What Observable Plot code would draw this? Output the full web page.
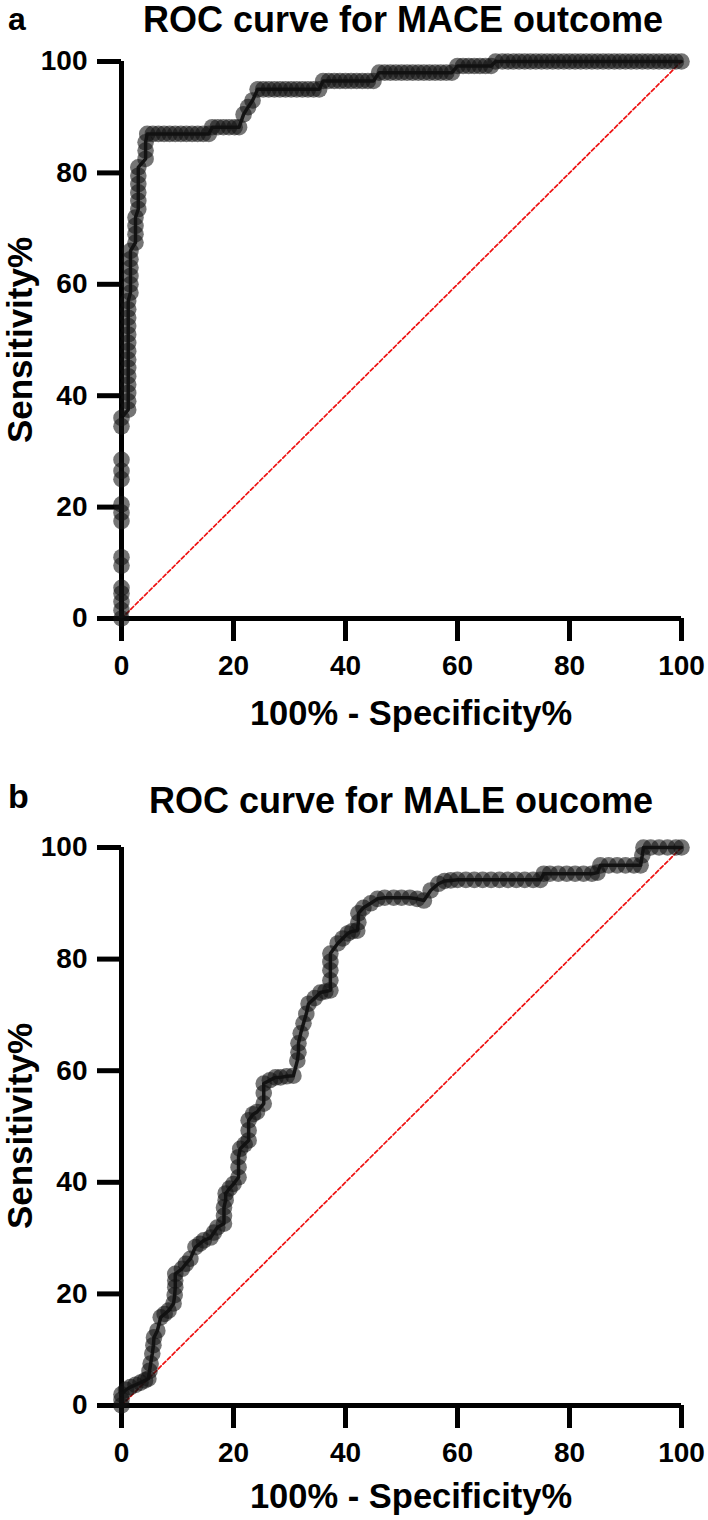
<!DOCTYPE html>
<html><head><meta charset="utf-8">
<script src="https://cdn.jsdelivr.net/npm/d3@7"></script>
<script src="https://cdn.jsdelivr.net/npm/@observablehq/plot@0.6"></script>
<style>
body{margin:0;background:#fff;}
#page{position:relative;width:708px;height:1520px;font-family:"Liberation Sans",Arial,Helvetica,sans-serif;font-weight:bold;color:#000;overflow:hidden;background:#fff}
.t{position:absolute;white-space:nowrap;line-height:1;font-weight:bold}
.plot{position:absolute;left:0}
</style></head><body><div id="page"></div>
<script>
const tickValues = [0, 20, 40, 60, 80, 100];
const chanceLine = [0, 100];
const titleA = "ROC curve for MACE outcome";
const titleB = "ROC curve for MALE oucome";
const xTitle = "100% - Specificity%";
const yTitle = "Sensitivity%";

// [100% - Specificity%, Sensitivity%]
const pointsA = [
 [0,0],[0,1.5],[0,3],[0,4.5],[0,5.5],
 [0,9.5],[0,11],
 [0,17.5],[0,19],[0,20.5],
 [0,25],[0,26.5],[0,28.5],
 [0,34.5],[0,36],
 [1.2,37.5],[1.2,39],[1.2,40.5],[1.2,42],[1.2,43.5],[1.2,45],[1.2,46.5],[1.2,48],[1.2,49.5],[1.2,51],[1.2,52.5],[1.2,54],[1.2,55.5],[1.2,57],
 [1.6,58.5],[1.6,60],[1.6,61.5],[1.6,63],[1.6,64.5],[1.6,66],
 [2.5,67.5],[2.5,69],[2.5,70.5],[2.5,72],
 [3,73.5],[3,75],[3,76.5],[3,78],[3,79.5],[3,81],
 [4.3,82.5],[4.3,84],[4.3,85.5],[4.6,87],
 [5.6,87],[6.6,87],[7.6,87],[8.6,87],[9.6,87],[10.6,87],[11.6,87],[12.6,87],[13.6,87],[14.6,87],[15.6,87],
 [16.2,88.2],[17.2,88.2],[18.2,88.2],[19.2,88.2],[20.2,88.2],[21,88.2],
 [21.8,90.5],[22.6,91.8],[23.4,93],[24.3,95],
 [25.3,95],[26.3,95],[27.3,95],[28.3,95],[29.3,95],[30.3,95],[31.3,95],[32.3,95],[33.3,95],[34.3,95],[35.3,95],
 [36,96.5],[37,96.5],[38,96.5],[39,96.5],[40,96.5],[41,96.5],[42,96.5],[43,96.5],[44,96.5],[45,96.5],
 [46,98],[47,98],[48,98],[49,98],[50,98],[51,98],[52,98],[53,98],[54,98],[55,98],[56,98],[57,98],[58,98],[59,98],
 [60,99.2],[61,99.2],[62,99.2],[63,99.2],[64,99.2],[65,99.2],[66,99.2],
 [66.8,100],[68,100],[69,100],[70,100],[71,100],[72,100],[73,100],[74,100],[75,100],[76,100],[77,100],[78,100],[79,100],[80,100],
 [81,100],[82,100],[83,100],[84,100],[85,100],[86,100],[87,100],[88,100],[89,100],[90,100],
 [91,100],[92,100],[93,100],[94,100],[95,100],[96,100],[97,100],[98,100],[99,100],[100,100]
];

const pointsB = [
 [0,0],[0,1],[0,2],[0.8,2.8],[1.6,3.3],[2.5,3.7],[3.4,4.1],[4.2,4.5],[4.8,4.8],[5.0,6.2],[5.2,7.5],[5.5,9.3],[5.7,10.8],[5.8,12.2],
 [6.4,13.4],[7.0,15.8],[7.7,16.4],[8.4,17.0],[9.3,18.3],[9.5,19.8],[9.6,21.2],[9.6,22.4],[9.6,23.6],[10.8,24.5],[11.5,25.4],[12.3,26.3],
 [13.2,28.4],[14.0,29.0],[14.7,29.6],[15.9,30.1],[16.5,31.0],[17.1,31.9],[18.3,32.6],[18.3,34.0],[18.3,35.5],[18.6,36.8],[18.6,38.0],
 [19.3,38.9],[20.0,39.7],[20.9,40.9],[20.9,42.7],[20.9,44.5],[21.2,46.0],[22.0,46.8],[22.7,47.5],[22.7,49.3],[22.7,51.1],[23.5,52.2],
 [24.2,52.6],[25.4,54.1],[25.4,56],[25.4,57.7],[26.5,58.3],[27.5,58.8],[28.4,58.8],[29.5,59.0],[30.7,59.1],[31.4,61.8],[31.6,63.3],
 [31.6,64.9],[32.0,66.7],[32.5,68.5],[33.0,70.2],[33.4,72.0],[34.5,73.0],[35.5,74.0],[36.4,74.2],[37.3,74.4],[37.3,76.2],[37.3,78.0],
 [37.3,79.5],[37.3,81.0],[38.6,82.8],[39.5,83.7],[40.4,84.6],[41.2,85],[42.1,85.1],[42.3,86.6],[42.3,88.2],[43.2,89.2],[44.5,90.0],
 [45.7,90.8],[47,91],[48.6,91.0],[50,91],[51.5,91],[52.8,90.8],[54.0,90.5],[55.2,92.3],[56.6,93.5],[57.7,94],[58.8,94.1],
 [60,94.2],[61.5,94.2],[63,94.2],[64.5,94.2],[66,94.2],[67.5,94.2],[69,94.2],[70.5,94.2],[72,94.2],[73.5,94.2],[74.8,94.2],
 [75.4,95.3],[76.5,95.3],[78,95.3],[79.5,95.3],[81,95.3],[82.5,95.3],[84,95.3],[85,95.5],
 [85.5,96.8],[87,96.8],[88.5,96.8],[90,96.8],[91.5,96.8],[92.7,96.8],[93.0,98.6],[93.2,100],
 [94.5,100],[96,100],[97.5,100],[99,100],[100,100]
];

const page = document.getElementById("page");
function addText(txt, left, top, size, center, rotate) {
  const d = document.createElement("div");
  d.className = "t";
  d.textContent = txt;
  d.style.fontSize = size + "px";
  d.style.left = left + "px";
  d.style.top = top + "px";
  if (rotate) d.style.transform = "translate(-50%,-50%) rotate(-90deg)";
  else if (center) d.style.transform = "translateX(-50%)";
  page.appendChild(d);
}

function makePlot(points, height, marginBottom) {
  const data = points.map(([fpr, tpr]) => ({fpr, tpr}));
  return Plot.plot({
    width: 708, height,
    marginTop: 21, marginBottom, marginLeft: 121, marginRight: 27,
    x: {domain: [0, 100]},
    y: {domain: [0, 100]},
    style: {fontFamily: '"Liberation Sans", Arial, sans-serif', fontWeight: "bold", fontSize: "27px", color: "#000", background: "transparent", overflow: "visible"},
    marks: [
      Plot.line(chanceLine, {x: d => d, y: d => d, stroke: "#ee1111", strokeWidth: 1.7, strokeDasharray: "4,2.5"}),
      Plot.axisX(tickValues, {tickSize: 23, tickPadding: 14, fontSize: 28, fontWeight: "bold", strokeWidth: 5, label: null}),
      Plot.axisY(tickValues, {tickSize: 24, tickPadding: 10, fontSize: 28, fontWeight: "bold", strokeWidth: 5, label: null}),
      Plot.ruleY([0], {strokeWidth: 5, stroke: "#000"}),
      Plot.ruleX([0], {strokeWidth: 5, stroke: "#000"}),
      Plot.line(data, {x: "fpr", y: "tpr", stroke: "#000", strokeWidth: 3.5, strokeOpacity: 0.9}),
      Plot.dot(data, {x: "fpr", y: "tpr", r: 8.3, fill: "#111", fillOpacity: 0.58, stroke: null})
    ]
  });
}

// Panel a
addText("a", 8, 3, 32, false, false);
addText(titleA, 403, 2, 36, true, false);
const pa = makePlot(pointsA, 700, 122);
pa.classList.add("plot"); pa.style.top = "40px";
page.appendChild(pa);
addText(xTitle, 411, 696, 34.5, true, false);
addText(yTitle, 19, 340, 35, false, true);

// Panel b
addText("b", 8, 779, 34, false, false);
addText(titleB, 401, 783, 36, true, false);
const pb = makePlot(pointsB, 690, 111);
pb.classList.add("plot"); pb.style.top = "826px";
page.appendChild(pb);
addText(xTitle, 411, 1479, 34.5, true, false);
addText(yTitle, 19, 1126, 35, false, true);
</script>
</body></html>
